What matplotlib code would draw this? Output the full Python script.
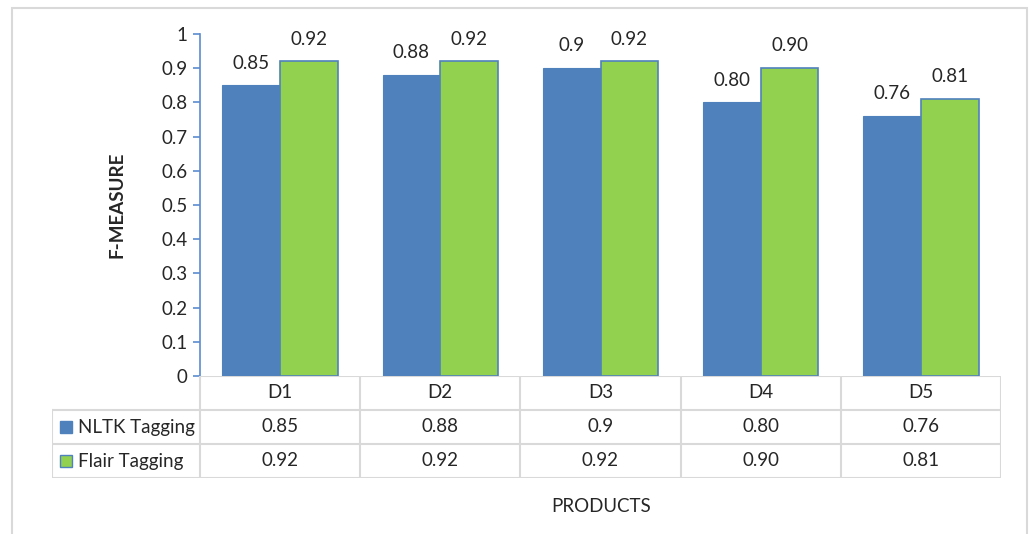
import matplotlib.pyplot as plt
from matplotlib.patches import Rectangle

plt.rcParams['font.family'] = ['Lato', 'DejaVu Sans']

products = ['D1', 'D2', 'D3', 'D4', 'D5']
nltk_scores = [0.85, 0.88, 0.90, 0.80, 0.76]
flair_scores = [0.92, 0.92, 0.92, 0.90, 0.81]
nltk_text = ['0.85', '0.88', '0.9', '0.80', '0.76']
flair_text = ['0.92', '0.92', '0.92', '0.90', '0.81']
series_names = ['NLTK Tagging', 'Flair Tagging']

BLUE = '#4F81BD'
GREEN = '#92D050'
GRID = '#D9D9D9'
TXT = '#262626'
FS = 13.5

W, H = 1032, 534
fig = plt.figure(figsize=(W / 100, H / 100), dpi=100)


def px_box(left, top, right, bottom):
    return [left / W, 1 - bottom / H, (right - left) / W, (bottom - top) / H]


# outer chart frame
fig.patches.append(Rectangle((12 / W, -0.05), (1027 - 12) / W, 1 - 8 / H + 0.05,
                             transform=fig.transFigure, fill=False,
                             edgecolor=GRID, linewidth=1.5))

ax = fig.add_axes(px_box(200, 34, 1001, 376))
x = list(range(len(products)))
bw = 0.36
ax.bar([i - bw / 2 for i in x], nltk_scores, bw, color=BLUE, edgecolor=BLUE, linewidth=0.8)
ax.bar([i + bw / 2 for i in x], flair_scores, bw, color=GREEN, edgecolor=BLUE, linewidth=1.2)

for i in x:
    ax.annotate(nltk_text[i], (i - bw / 2, nltk_scores[i]), xytext=(0, 16),
                textcoords='offset points', ha='center', va='center', fontsize=FS, color=TXT)
    ax.annotate(flair_text[i], (i + bw / 2, flair_scores[i]), xytext=(0, 16),
                textcoords='offset points', ha='center', va='center', fontsize=FS, color=TXT)

ax.set_xlim(-0.5, 4.5)
ax.set_ylim(0, 1)
ax.set_yticks([i / 10 for i in range(11)])
ax.set_yticklabels(['0'] + ['0.%d' % i for i in range(1, 10)] + ['1'])
ax.tick_params(axis='y', direction='out', length=5, width=1.2, color='#5B8BD0',
               labelsize=FS, labelcolor=TXT, pad=4)
ax.set_xticks([])
for side in ['top', 'right', 'bottom']:
    ax.spines[side].set_visible(False)
ax.spines['left'].set_color('#5B8BD0')
ax.spines['left'].set_linewidth(1.2)
ax.set_ylabel('F-MEASURE', fontsize=FS, fontweight='bold', color=TXT)
ax.yaxis.set_label_coords(-74 / 801, 0.5)
ax.patch.set_alpha(0)

# data table under the plot, sharing the category scale
label_w = 148 / 160.2
tx = fig.add_axes(px_box(52, 376, 1001, 478))
tx.set_xlim(-0.5 - label_w, 4.5)
tx.set_ylim(3, 0)
tx.axis('off')

lk = dict(color=GRID, linewidth=1.5, solid_capstyle='projecting')
tx.plot([-0.5, 4.5], [0, 0], **lk)
for r in [1, 2, 3]:
    tx.plot([-0.5 - label_w, 4.5], [r, r], **lk)
for b in [i - 0.5 for i in range(len(products) + 1)]:
    tx.plot([b, b], [0, 3], **lk)
tx.plot([-0.5 - label_w] * 2, [1, 3], **lk)

for i, name in enumerate(products):
    tx.text(i, 0.5, name, ha='center', va='center', fontsize=FS, color=TXT)
    tx.text(i, 1.5, nltk_text[i], ha='center', va='center', fontsize=FS, color=TXT)
    tx.text(i, 2.5, flair_text[i], ha='center', va='center', fontsize=FS, color=TXT)

sw = 12 / 160.2
for r, (name, col) in enumerate(zip(series_names, [BLUE, GREEN])):
    tx.add_patch(Rectangle((-0.5 - label_w + 8 / 160.2, 1.5 + r - 6 / 34), sw, 12 / 34,
                           facecolor=col, edgecolor=BLUE, linewidth=1))
    tx.text(-0.5 - label_w + 26 / 160.2, 1.5 + r, name, ha='left', va='center',
            fontsize=FS, color=TXT)

fig.text(601 / W, 1 - 507 / H, 'PRODUCTS', ha='center', va='center', fontsize=FS, color=TXT)

fig.savefig('out.png', dpi=100)
